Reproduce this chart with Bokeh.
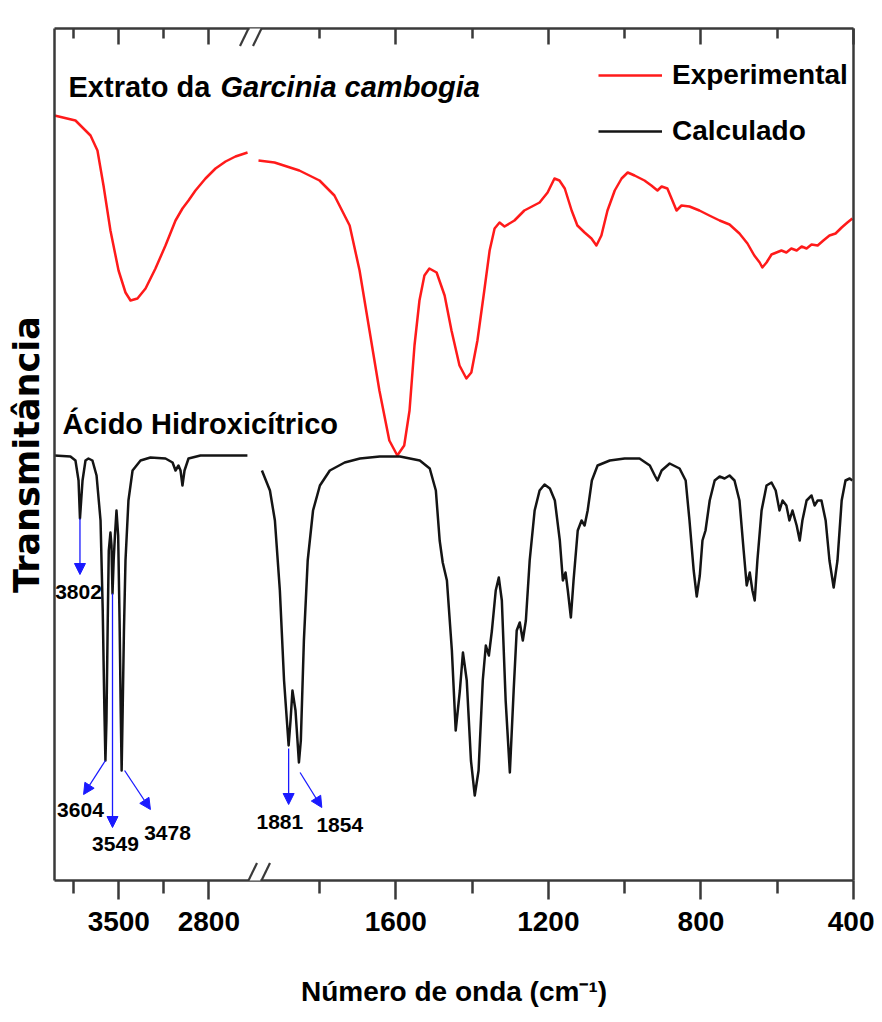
from bokeh.plotting import figure
from bokeh.models import (Range1d, LinearAxis, FixedTicker, Label, Arrow, NormalHead,
                          BoxAnnotation, Legend, LegendItem)
from bokeh.embed import file_html
from bokeh.resources import INLINE

# ---------------- data (wavenumber cm-1, transmittance a.u.) ----------------
exp_left_wn = [4000, 3837, 3720, 3666, 3619, 3565, 3502, 3448, 3409, 3355, 3292, 3215, 3137,
               3059, 3005, 2958, 2904, 2826, 2748, 2670, 2593, 2499]
exp_left_t = [765, 760, 745, 730, 695, 650, 610, 588, 580, 582, 592, 612, 635,
              660, 672, 680, 690, 702, 712, 719, 724, 728]

exp_right_wn = [1960, 1918, 1853, 1800, 1761, 1721, 1695, 1669, 1643, 1617,
                1596, 1578, 1564, 1551, 1538, 1525, 1512, 1493, 1472, 1454,
                1433, 1415, 1402, 1386, 1368, 1354, 1341, 1328, 1315, 1289,
                1263, 1223, 1202, 1184, 1171, 1157, 1139, 1124, 1105, 1087,
                1074, 1061, 1045, 1026, 1008, 992, 974, 948, 930, 914,
                903, 888, 877, 864, 851, 830, 804, 778, 751, 725,
                699, 678, 660, 646, 639, 628, 615, 602, 589, 576,
                563, 549, 536, 523, 510, 494, 479, 463, 447, 431,
                416, 403]
exp_right_t = [720, 718, 710, 700, 685, 655, 610, 550, 490, 440,
               425, 435, 470, 535, 580, 605, 612, 608, 585, 550,
               515, 502, 508, 540, 590, 630, 652, 658, 654, 660,
               670, 678, 688, 702, 700, 692, 670, 655, 648, 642,
               635, 645, 670, 690, 702, 708, 705, 700, 695, 690,
               694, 692, 682, 670, 675, 674, 670, 665, 660, 656,
               647, 637, 625, 618, 613, 618, 626, 628, 630, 628,
               632, 630, 634, 632, 636, 635, 640, 645, 647, 653,
               658, 662]

calc_left_wn = [4000, 3876, 3837, 3813, 3802, 3782, 3759, 3736, 3705, 3673,
                3642, 3625, 3612, 3604, 3596, 3586, 3578, 3565, 3557, 3549,
                3540, 3530, 3518, 3505, 3494, 3485, 3478, 3470, 3460, 3448,
                3425, 3393, 3331, 3254, 3137, 3082, 3059, 3036, 3020, 3005,
                2989, 2958, 2865, 2500]
calc_left_t = [425, 424, 420, 400, 362, 400, 420, 422, 420, 405,
               360, 270, 170, 120, 160, 260, 330, 348, 335, 287,
               320, 345, 370, 345, 260, 170, 110, 170, 250, 320,
               380, 410, 420, 423, 422, 418, 410, 415, 410, 395,
               410, 422, 425, 425]

calc_right_wn = [1951, 1930, 1917, 1904, 1893, 1881, 1876, 1871, 1863, 1854,
                 1849, 1841, 1831, 1817, 1799, 1773, 1734, 1694, 1642, 1589,
                 1537, 1511, 1495, 1485, 1477, 1466, 1453, 1443, 1432, 1424,
                 1414, 1403, 1393, 1383, 1372, 1364, 1356, 1348, 1338, 1330,
                 1322, 1312, 1301, 1291, 1283, 1275, 1267, 1259, 1249, 1236,
                 1223, 1210, 1196, 1183, 1170, 1162, 1155, 1149, 1141, 1134,
                 1123, 1113, 1105, 1097, 1086, 1071, 1039, 1000, 961, 934,
                 921, 914, 903, 882, 856, 840, 830, 819, 811, 803,
                 796, 788, 777, 764, 751, 738, 725, 712, 699, 688,
                 680, 672, 665, 659, 652, 641, 628, 615, 604, 594,
                 586, 576, 568, 560, 549, 541, 534, 523, 510, 502,
                 494, 484, 473, 463, 452, 442, 431, 421, 410, 403]
calc_right_t = [410, 390, 360, 290, 200, 135, 160, 190, 170, 118,
                140, 240, 320, 370, 395, 410, 418, 422, 424, 424,
                420, 412, 390, 340, 318, 300, 230, 150, 190, 228,
                200, 120, 85, 110, 200, 235, 225, 250, 290, 303,
                280, 180, 108, 190, 250, 258, 240, 260, 320, 370,
                390, 396, 392, 380, 340, 300, 308, 290, 263, 300,
                350, 360, 355, 370, 400, 415, 420, 422, 422, 415,
                405, 400, 410, 417, 412, 400, 360, 310, 284, 305,
                340, 350, 380, 400, 404, 402, 405, 400, 380, 330,
                295, 308, 290, 280, 320, 370, 395, 398, 390, 370,
                380, 375, 360, 370, 355, 340, 360, 380, 385, 375,
                380, 380, 360, 320, 293, 320, 380, 400, 402, 400]

left_major = [3500, 2800]
left_minor = [3850, 3150]
right_major = [1600, 1200, 800, 400]
right_minor = [1800, 1400, 1000, 600]

# peak annotations: label, arrow start (wn, T), arrow end (wn, T), label pos (wn, T), segment
peak_notes = [
    ("3802", (3802, 362), (3802, 306), (3813, 289), "left"),
    ("3604", (3604, 120), (3774, 86), (3798, 71), "left"),
    ("3549", (3549, 287), (3549, 53), (3526, 37), "left"),
    ("3478", (3455, 110), (3254, 71), (3121, 48), "left"),
    ("1881", (1881, 132), (1881, 76), (1904, 59), "default"),
    ("1854", (1851, 108), (1794, 73), (1747, 56), "default"),
]

# ---------------- layout of the broken axis ----------------
FRAME_W, FRAME_H = 799, 852
SEG_L = (4000, 2476)
SEG_L_PX = 196          # left segment occupies frame px 0..196
SEG_R = (1960, 400)
SEG_R_PX0 = 204         # right segment occupies frame px 204..799

r_scale = (SEG_R[0] - SEG_R[1]) / (FRAME_W - SEG_R_PX0)
main_start = SEG_R[0] + r_scale * SEG_R_PX0
l_scale = (SEG_L[0] - SEG_L[1]) / SEG_L_PX
left_end = SEG_L[0] - l_scale * FRAME_W


def fx(px):
    """frame pixel -> main x coordinate"""
    return main_start - px * r_scale


def left_to_main(w):
    return fx((SEG_L[0] - w) / l_scale)


SANS = "Liberation Sans"
AXIS_C = "#3a3a3a"
BLUE = "#1a1aff"
RED = "#ff1a1a"
BLACK = "#141414"

p = figure(frame_width=FRAME_W, frame_height=FRAME_H,
           x_range=Range1d(main_start, SEG_R[1]), y_range=Range1d(0, FRAME_H),
           output_backend="svg", toolbar_location=None,
           min_border_left=54, min_border_right=21, min_border_top=28, min_border_bottom=138)
p.extra_x_ranges = {"left": Range1d(SEG_L[0], left_end)}
p.xgrid.visible = False
p.ygrid.visible = False
p.outline_line_color = None

major_pos = [round(left_to_main(w), 3) for w in left_major] + right_major
minor_pos = [round(left_to_main(w), 3) for w in left_minor] + right_minor
overrides = {pos: str(lbl) for pos, lbl in zip(major_pos, left_major + right_major)}

xa = p.xaxis[0]
xa.ticker = FixedTicker(ticks=major_pos, minor_ticks=minor_pos)
xa.major_label_overrides = overrides
xa.major_tick_out = 19
xa.major_tick_in = 0
xa.minor_tick_out = 13
xa.minor_tick_in = 0
xa.major_tick_line_width = 2.5
xa.minor_tick_line_width = 2.5
xa.major_tick_line_color = AXIS_C
xa.minor_tick_line_color = AXIS_C
xa.axis_line_color = AXIS_C
xa.axis_line_width = 2.5
xa.major_label_text_font = SANS
xa.major_label_text_font_style = "bold"
xa.major_label_text_font_size = "28px"
xa.major_label_text_color = "black"
xa.major_label_standoff = 12
xa.axis_label = "Número de onda (cm⁻¹)"
xa.axis_label_text_font = SANS
xa.axis_label_text_font_style = "bold"
xa.axis_label_text_font_size = "28px"
xa.axis_label_text_color = "black"
xa.axis_label_standoff = 42

top = LinearAxis(ticker=FixedTicker(ticks=major_pos, minor_ticks=minor_pos),
                 major_tick_in=16, major_tick_out=0, minor_tick_in=10, minor_tick_out=0,
                 major_tick_line_width=2.5, minor_tick_line_width=2.5,
                 major_tick_line_color=AXIS_C, minor_tick_line_color=AXIS_C,
                 axis_line_color=AXIS_C, axis_line_width=2.5,
                 major_label_text_color=None, major_label_text_font_size="10px",
                 major_label_standoff=0)
p.add_layout(top, "above")

ya = p.yaxis[0]
ya.ticker = FixedTicker(ticks=[])
ya.major_tick_out = 0
ya.minor_tick_out = 0
ya.major_label_standoff = 0
ya.major_label_text_color = None
ya.axis_line_color = AXIS_C
ya.axis_line_width = 2.5
ya.axis_label = "Transmitância"
ya.axis_label_text_font = "DejaVu Sans"
ya.axis_label_text_font_style = "bold"
ya.axis_label_text_font_size = "35px"
ya.axis_label_text_color = "black"
ya.axis_label_standoff = 8

right = LinearAxis(ticker=FixedTicker(ticks=[]), major_tick_out=0, minor_tick_out=0,
                   major_label_text_color=None, major_label_standoff=0,
                   axis_line_color=AXIS_C, axis_line_width=2.5)
p.add_layout(right, "right")

# axis breaks
for cy in (0, FRAME_H):
    p.add_layout(BoxAnnotation(left=fx(206), right=fx(195), bottom=cy - 6, top=cy + 6,
                               fill_color="white", fill_alpha=1.0, line_color=None))
    for cx in (194, 207):
        p.add_layout(Arrow(end=None, x_start=fx(cx - 8.5), y_start=cy - 17.5,
                           x_end=fx(cx + 8.5), y_end=cy + 17.5,
                           line_color=AXIS_C, line_width=2.2))

# spectra
p.line(exp_left_wn, exp_left_t, x_range_name="left", line_color=RED, line_width=2.5,
       line_join="round")
r_exp = p.line(exp_right_wn, exp_right_t, line_color=RED, line_width=2.5, line_join="round")
p.line(calc_left_wn, calc_left_t, x_range_name="left", line_color=BLACK, line_width=2.5,
       line_join="round")
r_calc = p.line(calc_right_wn, calc_right_t, line_color=BLACK, line_width=2.5,
                line_join="round")

legend = Legend(items=[LegendItem(label="Experimental", renderers=[r_exp]),
                       LegendItem(label="Calculado", renderers=[r_calc])],
                location=(544, 733), label_text_font=SANS, label_text_font_style="bold",
                label_text_font_size="28px", label_text_color="black",
                glyph_width=64, glyph_height=30, label_standoff=10, spacing=24,
                padding=0, margin=0, border_line_color=None, background_fill_alpha=0)
p.add_layout(legend)

# peak annotations
for lbl, (x0, y0), (x1, y1), (lx, ly), rng in peak_notes:
    p.add_layout(Arrow(end=NormalHead(size=11, fill_color=BLUE, line_color=BLUE),
                       x_start=x0, y_start=y0, x_end=x1, y_end=y1,
                       line_color=BLUE, line_width=1.3, x_range_name=rng))
    p.add_layout(Label(x=lx, y=ly, text=lbl, x_range_name=rng, text_align="center",
                       text_baseline="middle", text_font=SANS, text_font_style="bold",
                       text_font_size="21px", text_color="black"))

# titles
p.add_layout(Label(x=fx(14), y=794, text="Extrato da", text_baseline="alphabetic",
                   text_font=SANS, text_font_style="bold", text_font_size="29px",
                   text_color="black"))
p.add_layout(Label(x=fx(166), y=794, text="Garcinia cambogia", text_baseline="alphabetic",
                   text_font=SANS, text_font_style="bold italic", text_font_size="29px",
                   text_color="black"))
p.add_layout(Label(x=fx(8), y=457, text="Ácido Hidroxicítrico", text_baseline="alphabetic",
                   text_font=SANS, text_font_style="bold", text_font_size="29px",
                   text_color="black"))

open("out.html", "w").write(file_html(p, INLINE))
